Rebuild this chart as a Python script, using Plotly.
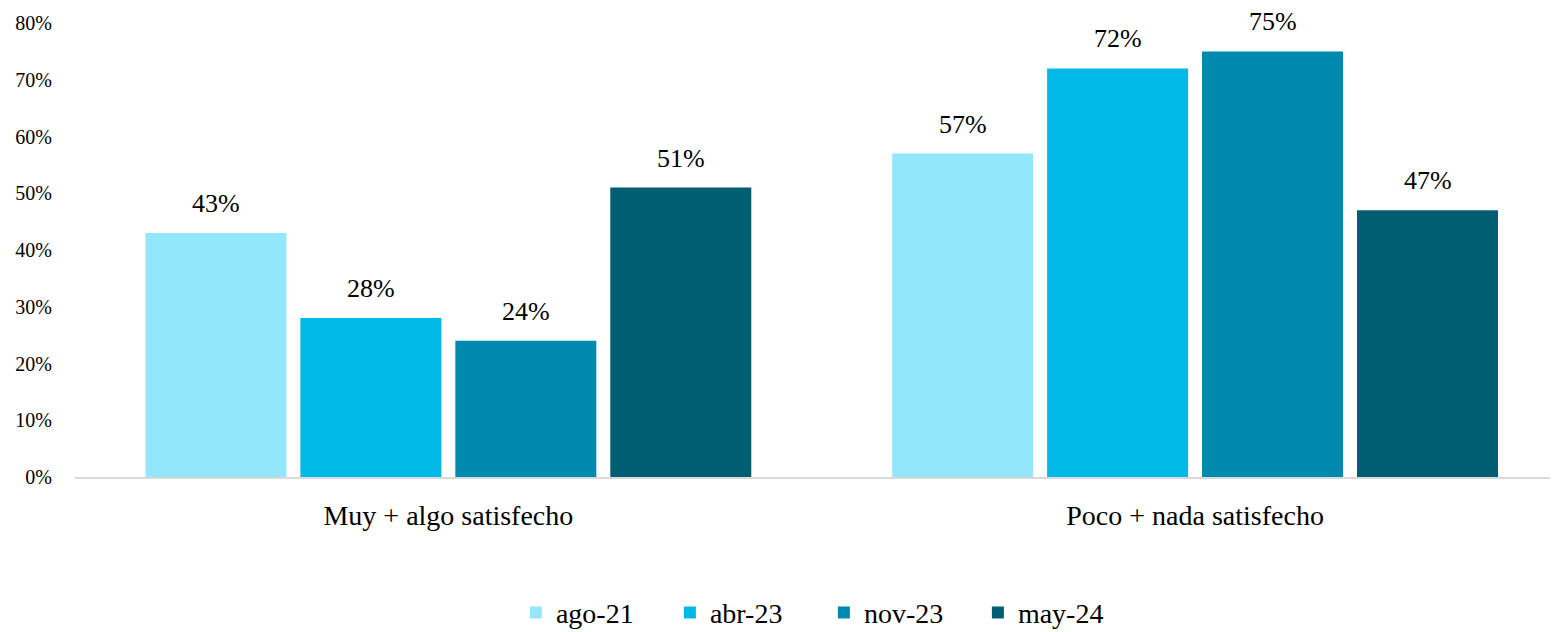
import plotly.graph_objects as go

categories = ["Muy + algo satisfecho", "Poco + nada satisfecho"]
series_names = ["ago-21", "abr-23", "nov-23", "may-24"]
values_ago21 = [43, 57]
values_abr23 = [28, 72]
values_nov23 = [24, 75]
values_may24 = [51, 47]
tick_values = [0, 10, 20, 30, 40, 50, 60, 70, 80]
tick_labels = ["0%", "10%", "20%", "30%", "40%", "50%", "60%", "70%", "80%"]
colors = ["#92E7FD", "#00B9E7", "#0089AE", "#005E73"]

all_values = [values_ago21, values_abr23, values_nov23, values_may24]
font_family = "Liberation Serif, serif"

bargap = 0.17
bargroupgap = 0.09
n = len(series_names)

fig = go.Figure()
for name, vals, col in zip(series_names, all_values, colors):
    fig.add_trace(go.Bar(
        x=categories, y=vals, name=name,
        marker=dict(color=col, line=dict(width=0)),
    ))

# value labels above each bar (positions follow the grouped-bar layout)
slot = (1 - bargap) / n
for i, vals in enumerate(all_values):
    off = -(1 - bargap) / 2 + (i + 0.5) * slot
    for j, v in enumerate(vals):
        fig.add_annotation(
            x=j + off, y=v, xref="x", yref="y",
            text=f"{v}%", showarrow=False, yanchor="bottom", yshift=13,
            font=dict(size=26, family=font_family, color="#000000"),
        )

fig.update_layout(
    width=1558, height=632,
    barmode="group", bargap=bargap, bargroupgap=bargroupgap,
    plot_bgcolor="white", paper_bgcolor="white",
    margin=dict(l=67, r=11, t=15, b=163, autoexpand=False),
    font=dict(family=font_family, color="#000000"),
    showlegend=True,
    legend=dict(orientation="h", x=0.506, xanchor="center",
                yref="container", y=0.043, yanchor="middle",
                font=dict(size=28, family=font_family), itemwidth=30,
                entrywidth=109, entrywidthmode="pixels",
                traceorder="normal"),
    xaxis=dict(range=[-0.5, 1.482], showline=True, linecolor="#D9D9D9", linewidth=2,
               ticks="", tickfont=dict(size=28, family=font_family), showgrid=False,
               zeroline=False, ticklabelstandoff=12, automargin=False),
    yaxis=dict(range=[0, 80], tickvals=tick_values, ticktext=tick_labels,
               showgrid=False, zeroline=False, showline=False,
               tickfont=dict(size=20, family=font_family), ticklabelstandoff=22,
               automargin=False),
)

fig.write_html("out.html")
